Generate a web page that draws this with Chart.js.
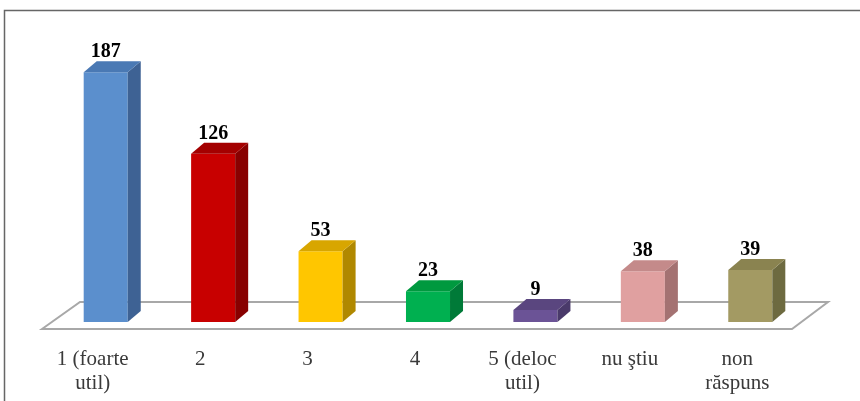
<!DOCTYPE html>
<html lang="ro">
<head>
    <meta charset="UTF-8">
    <title>Utilitate</title>
    <script src="https://cdn.jsdelivr.net/npm/chart.js"></script>
    <style>
        html, body { margin: 0; padding: 0; background: #fff; }
    </style>
</head>
<body>
    <canvas id="chart" width="860" height="401"></canvas>

    <script>
        const categories = [['1 (foarte', 'util)'], '2', '3', '4', ['5 (deloc', 'util)'], 'nu ştiu', ['non', 'răspuns']];
        const values = [187, 126, 53, 23, 9, 38, 39];
        const frontColors = ['#5b8fcd', '#c80000', '#ffc600', '#00b050', '#6b5396', '#e0a0a0', '#a39a63'];
        const sideColors = ['#3e6294', '#880000', '#b08800', '#007a38', '#4a3a6a', '#a47272', '#6d6a40'];
        const topColors = ['#4a79b4', '#a40000', '#d8a600', '#00993f', '#5a467f', '#c48a8a', '#8a8350'];

        // depth of the 3D boxes
        const dx = 13, dy = 11;

        const box3d = {
            id: 'box3d',
            beforeDraw(chart) {
                const ctx = chart.ctx;
                ctx.save();
                ctx.strokeStyle = '#666';
                ctx.lineWidth = 1.5;
                ctx.beginPath();
                ctx.moveTo(4.5, 401);
                ctx.lineTo(4.5, 10.5);
                ctx.lineTo(860, 10.5);
                ctx.stroke();
                ctx.restore();
            },
            beforeDatasetsDraw(chart) {
                // floor
                const ctx = chart.ctx;
                const area = chart.chartArea;
                const base = chart.scales.y.getPixelForValue(0);
                ctx.save();
                ctx.fillStyle = '#fff';
                ctx.strokeStyle = '#a8a8a8';
                ctx.lineWidth = 2;
                ctx.beginPath();
                ctx.moveTo(area.left - 10, base + 7);
                ctx.lineTo(area.left + 28, base - 20);
                ctx.lineTo(area.right + 24, base - 20);
                ctx.lineTo(area.right - 12, base + 7);
                ctx.closePath();
                ctx.fill();
                ctx.stroke();
                ctx.restore();
            },
            afterDatasetsDraw(chart) {
                const ctx = chart.ctx;
                const meta = chart.getDatasetMeta(0);
                ctx.save();
                meta.data.forEach((bar, i) => {
                    const l = bar.x - bar.width / 2;
                    const r = bar.x + bar.width / 2;
                    const t = bar.y;
                    const b = bar.base;
                    // side face
                    ctx.fillStyle = sideColors[i];
                    ctx.beginPath();
                    ctx.moveTo(r, t);
                    ctx.lineTo(r + dx, t - dy);
                    ctx.lineTo(r + dx, b - dy);
                    ctx.lineTo(r, b);
                    ctx.closePath();
                    ctx.fill();
                    // top face
                    ctx.fillStyle = topColors[i];
                    ctx.beginPath();
                    ctx.moveTo(l, t);
                    ctx.lineTo(l + dx, t - dy);
                    ctx.lineTo(r + dx, t - dy);
                    ctx.lineTo(r, t);
                    ctx.closePath();
                    ctx.fill();
                    // value label
                    ctx.fillStyle = '#000';
                    ctx.font = 'bold 20px "Liberation Serif"';
                    ctx.textAlign = 'center';
                    ctx.textBaseline = 'alphabetic';
                    ctx.fillText(values[i], bar.x, t - dy - 4);
                });
                ctx.restore();
            }
        };

        new Chart(document.getElementById('chart'), {
            type: 'bar',
            data: {
                labels: categories,
                datasets: [{
                    data: values,
                    backgroundColor: frontColors,
                    borderWidth: 0,
                    barPercentage: 0.41,
                    categoryPercentage: 1
                }]
            },
            options: {
                responsive: false,
                animation: false,
                layout: { padding: { left: 52, right: 56, top: 55, bottom: 0 } },
                plugins: { legend: { display: false }, tooltip: { enabled: false } },
                scales: {
                    x: {
                        grid: { display: false, drawTicks: false },
                        border: { display: false },
                        ticks: {
                            color: '#3a3a3a',
                            font: { family: 'Liberation Serif', size: 21, lineHeight: 1.15 },
                            padding: 25,
                            labelOffset: -13,
                            maxRotation: 0,
                            autoSkip: false
                        },
                        afterFit(scale) { scale.height = 79; }
                    },
                    y: {
                        display: false,
                        min: 0,
                        max: 200
                    }
                }
            },
            plugins: [box3d]
        });
    </script>
</body>
</html>
